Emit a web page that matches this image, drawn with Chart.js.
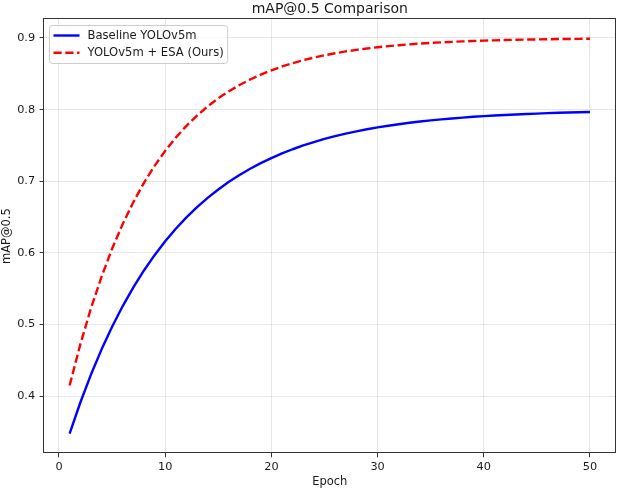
<!DOCTYPE html>
<html>
<head>
<meta charset="utf-8">
<title>mAP@0.5 Comparison</title>
<script src="https://cdn.jsdelivr.net/npm/chart.js@4.4.1/dist/chart.umd.min.js"></script>
<style>
  html, body { margin: 0; padding: 0; background: #fff; }
  canvas { display: block; }
</style>
</head>
<body>
<canvas id="grafico" width="630" height="491"></canvas>
<script>
const epochs = [1, 2, 3, 4, 5, 6, 7, 8, 9, 10, 11, 12, 13, 14, 15, 16, 17, 18, 19, 20,
    21, 22, 23, 24, 25, 26, 27, 28, 29, 30, 31, 32, 33, 34, 35, 36, 37, 38, 39, 40,
    41, 42, 43, 44, 45, 46, 47, 48, 49, 50]

const baseline = [0.3476, 0.3906, 0.4296, 0.4648, 0.4967, 0.5256, 0.5517, 0.5753, 0.5967, 0.6161,
    0.6336, 0.6494, 0.6637, 0.6767, 0.6884, 0.6991, 0.7087, 0.7174, 0.7252, 0.7323,
    0.7388, 0.7446, 0.7499, 0.7546, 0.7590, 0.7629, 0.7664, 0.7696, 0.7725, 0.7751,
    0.7775, 0.7796, 0.7816, 0.7833, 0.7849, 0.7863, 0.7876, 0.7888, 0.7899, 0.7908,
    0.7917, 0.7925, 0.7932, 0.7939, 0.7944, 0.7950, 0.7955, 0.7959, 0.7963, 0.7966]

const esa = [0.4146, 0.4717, 0.5220, 0.5664, 0.6056, 0.6402, 0.6707, 0.6977, 0.7214, 0.7424,
    0.7609, 0.7773, 0.7917, 0.8044, 0.8157, 0.8256, 0.8343, 0.8420, 0.8488, 0.8549,
    0.8602, 0.8648, 0.8690, 0.8726, 0.8758, 0.8787, 0.8812, 0.8834, 0.8853, 0.8871,
    0.8886, 0.8899, 0.8911, 0.8922, 0.8931, 0.8939, 0.8946, 0.8952, 0.8958, 0.8963,
    0.8967, 0.8971, 0.8975, 0.8978, 0.8980, 0.8982, 0.8985, 0.8986, 0.8988, 0.8989]

const xTicks = [0, 10, 20, 30, 40, 50]
const yTicks = [0.4, 0.5, 0.6, 0.7, 0.8, 0.9]

const font = 'DejaVu Sans'
const textColor = '#1a1a1a'
const gridColor = 'rgba(176,176,176,0.3)'

// matplotlib-like frame + legend box drawn on top of the lines
const frameAndLegend = {
    id: 'frameAndLegend',
    afterDatasetsDraw(chart){
        const {ctx, chartArea} = chart
        ctx.save()
        ctx.strokeStyle = '#333'
        ctx.lineWidth = 1
        const l = Math.round(chartArea.left) - 0.5
        const t = Math.round(chartArea.top) - 0.5
        const r = Math.round(chartArea.right) - 0.5
        const b = Math.round(chartArea.bottom) - 0.5
        ctx.strokeRect(l, t, r - l, b - t)

        ctx.font = `11.6px "${font}"`
        const datasets = chart.data.datasets
        const textW = Math.max(...datasets.map(d => ctx.measureText(d.label).width))
        const x0 = Math.round(chartArea.left + 6) - 0.5
        const y0 = Math.round(chartArea.top + 6) + 0.5
        const w = 38 + textW + 4
        const h = 38
        ctx.beginPath()
        ctx.roundRect(x0, y0, w, h, 3)
        ctx.fillStyle = 'rgba(255,255,255,0.8)'
        ctx.fill()
        ctx.strokeStyle = '#cccccc'
        ctx.stroke()

        datasets.forEach((ds, i) => {
            const y = y0 + 10 + i * 17.3
            ctx.beginPath()
            ctx.setLineDash(ds.borderDash || [])
            ctx.strokeStyle = ds.borderColor
            ctx.lineWidth = ds.borderWidth
            ctx.moveTo(x0 + 4, y)
            ctx.lineTo(x0 + 30, y)
            ctx.stroke()
            ctx.setLineDash([])
            ctx.fillStyle = textColor
            ctx.textBaseline = 'middle'
            ctx.textAlign = 'left'
            ctx.fillText(ds.label, x0 + 38, y + 0.5)
        })
        ctx.restore()
    }
}

const canvas = document.getElementById('grafico')

const chart = new Chart(canvas, {
    type: 'line',
    data: {
        datasets: [
            {
                label: 'Baseline YOLOv5m',
                data: epochs.map((e, i) => ({x: e, y: baseline[i]})),
                borderColor: '#0000ff',
                borderWidth: 2.4,
                fill: false
            },
            {
                label: 'YOLOv5m + ESA (Ours)',
                data: epochs.map((e, i) => ({x: e, y: esa[i]})),
                borderColor: '#ff0000',
                borderWidth: 2.4,
                borderDash: [8.2, 3.6],
                fill: false
            }
        ]
    },
    options: {
        responsive: false,
        animation: false,
        layout: { padding: { left: 0, right: 14, top: 0, bottom: 0 } },
        elements: { point: { radius: 0 }, line: { tension: 0, borderJoinStyle: 'round' } },
        plugins: {
            legend: { display: false },
            tooltip: { enabled: false },
            title: {
                display: true,
                text: 'mAP@0.5 Comparison',
                fullSize: false,
                color: textColor,
                font: { family: font, size: 14, weight: 'normal' },
                padding: { top: 1.2, bottom: 1.0 }
            }
        },
        scales: {
            x: {
                type: 'linear',
                min: -1.45,
                max: 52.45,
                afterBuildTicks: s => { s.ticks = xTicks.map(v => ({value: v})) },
                afterFit: s => { s.height = 37.7 },
                ticks: {
                    color: textColor,
                    font: { family: font, size: 11.3 },
                    padding: 3,
                    maxRotation: 0,
                    autoSkip: false,
                    callback: v => String(v)
                },
                grid: { color: gridColor, tickColor: '#333', tickLength: 4, lineWidth: 1 },
                border: { display: false },
                title: {
                    display: true,
                    text: 'Epoch',
                    color: textColor,
                    font: { family: font, size: 11.5 },
                    padding: { top: 0, bottom: 2.2 }
                }
            },
            y: {
                min: 0.3200,
                max: 0.9265,
                afterBuildTicks: s => { s.ticks = yTicks.map(v => ({value: v})) },
                afterFit: s => { s.width = 43.6 },
                ticks: {
                    color: textColor,
                    font: { family: font, size: 11.3 },
                    padding: 4.5,
                    callback: v => v.toFixed(1)
                },
                grid: { color: gridColor, tickColor: '#333', tickLength: 4, lineWidth: 1 },
                border: { display: false },
                title: {
                    display: true,
                    text: 'mAP@0.5',
                    color: textColor,
                    font: { family: font, size: 11.5 },
                    padding: { top: 0, bottom: 0 }
                }
            }
        }
    },
    plugins: [frameAndLegend]
})
</script>
</body>
</html>
